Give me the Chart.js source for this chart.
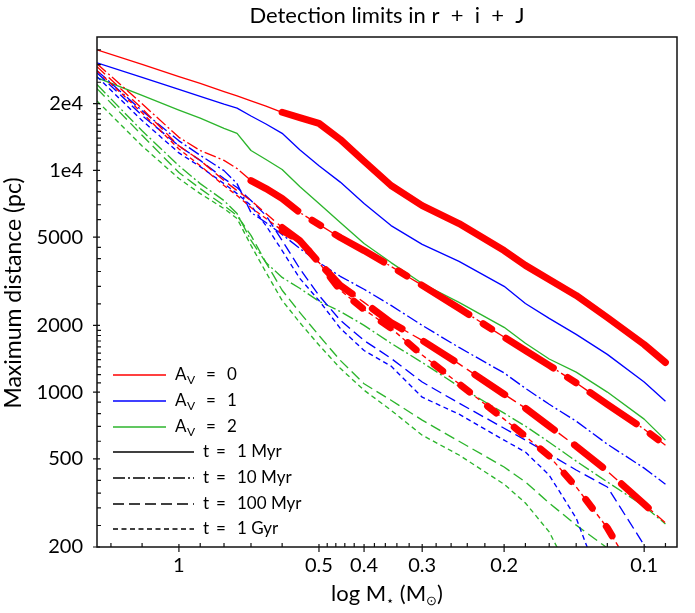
<!DOCTYPE html>
<html>
<head>
<meta charset="utf-8">
<script src="https://cdn.jsdelivr.net/npm/chart.js@4.4.1/dist/chart.umd.min.js"></script>
<style>
  html, body { margin: 0; padding: 0; background: #fff; }
</style>
</head>
<body>
<canvas id="limitsChart" width="695" height="613"></canvas>
<script>
// stellar masses (Msun) on which every curve is sampled
const masses = [1.5, 1.2, 1.0, 0.9, 0.8, 0.75, 0.7, 0.65, 0.6, 0.55, 0.5, 0.45, 0.4, 0.35, 0.3, 0.25, 0.2, 0.18, 0.16, 0.14, 0.12, 0.1, 0.09];

// maximum distance (pc), A_V = 0
const av0_1myr   = [35000, 30100, 26500, 24700, 22700, 21700, 20600, 19500, 18300, 17300, 16300, 13800, 11000, 8550, 6940, 5760, 4350, 3730, 3220, 2730, 2170, 1640, 1360];
const av0_10myr  = [30300, 20000, 14100, 12300, 11100, 10200, 9000, 8280, 7470, 6460, 5700, 4980, 4350, 3690, 3030, 2390, 1770, 1540, 1320, 1100, 881, 680, 576];
const av0_100myr = [29400, 19000, 12900, 11100, 9000, 8110, 7310, 6390, 5530, 4830, 3840, 3030, 2540, 2060, 1710, 1340, 978, 846, 702, 570, 440, 312, 257];
const av0_1gyr   = [28200, 18200, 12500, 10500, 8550, 7700, 6800, 6070, 5360, 4830, 3840, 2880, 2360, 1940, 1470, 1090, 755, 632, 514, 373, 244, 128, null];

// A_V = 1
const av1_1myr   = [30600, 26300, 23200, 21600, 19900, 19100, 17600, 16200, 14700, 12400, 10500, 8860, 7090, 5640, 4640, 3890, 3000, 2510, 2150, 1820, 1480, 1110, 910];
const av1_10myr  = [28200, 18600, 13600, 11700, 9980, 8720, 6460, 5820, 5140, 4450, 3840, 3330, 2910, 2460, 2000, 1590, 1220, 1040, 881, 739, 582, 454, 384];
const av1_100myr = [27600, 17700, 12900, 11100, 9190, 8370, 7310, 6260, 4830, 3610, 2730, 2110, 1710, 1420, 1110, 891, 687, 607, 525, 445, 373, 204, 142];
const av1_1gyr   = [26500, 16800, 12000, 10400, 8720, 7860, 6940, 5640, 4350, 3260, 2590, 1940, 1540, 1310, 948, 795, 607, 536, 422, 270, 115, null, null];

// A_V = 2
const av2_1myr   = [26200, 21800, 18700, 17200, 15500, 14700, 12300, 11200, 10100, 8460, 7090, 5820, 4680, 3840, 3090, 2540, 1960, 1660, 1410, 1230, 1000, 755, 607];
const av2_10myr  = [24400, 15100, 10500, 8720, 7310, 6390, 4830, 3840, 3290, 2940, 2570, 2310, 2000, 1660, 1360, 1060, 803, 702, 594, 488, 393, 306, 254];
const av2_100myr = [23400, 14400, 9780, 8280, 6940, 6260, 5090, 3840, 2880, 2290, 1800, 1390, 1090, 919, 747, 600, 459, 393, 316, 251, 198, 115, null];
const av2_1gyr   = [20600, 12900, 9190, 7860, 6730, 6070, 4590, 3470, 2590, 2060, 1630, 1280, 1020, 828, 639, 520, 384, 316, 234, 135, null, null, null];

// the A_V = 0 curves are drawn heavy below these masses (1 Myr, 10 Myr, 100 Myr, 1 Gyr)
const heavyBelow = [0.6, 0.7, 0.6, 0.6];

const extinctions = ['0', '1', '2'];
const ages = ['1 Myr', '10 Myr', '100 Myr', '1 Gyr'];

const xTickValues = [1, 0.5, 0.4, 0.3, 0.2, 0.1];
const xTickLabels = ['1', '0.5', '0.4', '0.3', '0.2', '0.1'];
const xMinorTicks = [1.4, 1.2, 0.9, 0.8, 0.7, 0.6, 0.48, 0.46, 0.44, 0.42, 0.38, 0.36, 0.34, 0.32,
                     0.28, 0.26, 0.24, 0.22, 0.18, 0.16, 0.14, 0.12, 0.09];
const yTickValues = [200, 500, 1000, 2000, 5000, 10000, 20000];
const yTickLabels = ['200', '500', '1000', '2000', '5000', '1e4', '2e4'];
const yMinorTicks = [250, 300, 350, 400, 450, 600, 700, 800, 900,
                     1100, 1200, 1300, 1400, 1500, 1600, 1700, 1800, 1900,
                     2500, 3000, 3500, 4000, 4500, 6000, 7000, 8000, 9000,
                     11000, 12000, 13000, 14000, 15000, 16000, 17000, 18000, 19000,
                     25000, 30000, 35000];

const curves = [
  [av0_1myr, av0_10myr, av0_100myr, av0_1gyr],
  [av1_1myr, av1_10myr, av1_100myr, av1_1gyr],
  [av2_1myr, av2_10myr, av2_100myr, av2_1gyr]
];

const colours = ['#ff0000', '#0000ff', '#2cb52c'];
const thinDash = [[], [12, 3, 2, 3], [11, 5], [5, 3.5]];
const heavyDash = [[], [56, 17, 10, 17], [36, 25], [11, 23]];
const FONT = 'Lato, "Open Sans", sans-serif';

const datasets = [];
curves.forEach(function (byAge, a) {
  byAge.forEach(function (values, t) {
    datasets.push({
      label: 'A_V=' + extinctions[a] + ' ' + ages[t],
      data: masses.map(function (m, i) { return { x: m, y: values[i] }; }),
      borderColor: colours[a],
      borderWidth: 1.35,
      borderDash: thinDash[t],
      borderCapStyle: 'butt',
      order: 2
    });
  });
});

// heavy overlay on the A_V = 0 curves
curves[0].forEach(function (values, t) {
  datasets.push({
    label: 'A_V=0 ' + ages[t] + ' heavy',
    data: masses.map(function (m, i) {
      return { x: m, y: m <= heavyBelow[t] + 1e-9 ? values[i] : null };
    }),
    borderColor: colours[0],
    borderWidth: 7,
    borderDash: heavyDash[t],
    borderCapStyle: 'round',
    order: 1
  });
});

function drawSub(ctx, parts, x, y) {
  // parts: [text, size, dy]
  let cx = x;
  parts.forEach(function (p) {
    ctx.font = p[1] + 'px ' + FONT;
    ctx.fillText(p[0], cx, y + p[2]);
    cx += ctx.measureText(p[0]).width;
  });
  return cx - x;
}

function widthOf(ctx, parts) {
  let w = 0;
  parts.forEach(function (p) {
    ctx.font = p[1] + 'px ' + FONT;
    w += ctx.measureText(p[0]).width;
  });
  return w;
}

const decorPlugin = {
  id: 'decor',
  afterDraw: function (chart) {
    const ctx = chart.ctx;
    const area = chart.chartArea;
    const xs = chart.scales.x;
    const ys = chart.scales.y;
    ctx.save();

    // frame
    ctx.strokeStyle = '#111';
    ctx.lineWidth = 1.5;
    ctx.setLineDash([]);
    ctx.strokeRect(area.left, area.top, area.right - area.left, area.bottom - area.top);

    // tick marks
    ctx.lineWidth = 1.2;
    ctx.beginPath();
    xTickValues.forEach(function (v) {
      const px = xs.getPixelForValue(v);
      ctx.moveTo(px, area.bottom - 3); ctx.lineTo(px, area.bottom + 5);
    });
    xMinorTicks.forEach(function (v) {
      const px = xs.getPixelForValue(v);
      ctx.moveTo(px, area.bottom); ctx.lineTo(px, area.bottom - 4);
    });
    yTickValues.forEach(function (v) {
      const py = ys.getPixelForValue(v);
      ctx.moveTo(area.left - 4, py); ctx.lineTo(area.left + 3, py);
    });
    yMinorTicks.forEach(function (v) {
      const py = ys.getPixelForValue(v);
      ctx.moveTo(area.left, py); ctx.lineTo(area.left + 4, py);
    });
    ctx.stroke();

    ctx.fillStyle = '#000';
    ctx.textBaseline = 'alphabetic';

    // title
    ctx.textAlign = 'center';
    ctx.font = '22px ' + FONT;
    const cx = (area.left + area.right) / 2;
    ctx.fillText('Detection limits in r  +  i  +  J', cx, 23);

    // y title
    ctx.save();
    ctx.translate(21, 293);
    ctx.rotate(-Math.PI / 2);
    ctx.font = '23px ' + FONT;
    ctx.fillText('Maximum distance (pc)', 0, 0);
    ctx.restore();

    // x title with subscripts
    ctx.textAlign = 'left';
    const xt = [['log M', 22, 0], ['\u22C6', 13, 4], [' (M', 22, 0], ['\u2299', 13, 4], [')', 22, 0]];
    const w = widthOf(ctx, xt);
    drawSub(ctx, xt, cx - w / 2, 601);

    // legend
    const rowY = [375, 401, 427, 452, 478, 504, 529];
    ctx.lineWidth = 1.4;
    for (let a = 0; a < 3; a++) {
      const y = rowY[a];
      ctx.strokeStyle = colours[a];
      ctx.setLineDash([]);
      ctx.beginPath(); ctx.moveTo(113, y); ctx.lineTo(166, y); ctx.stroke();
      ctx.font = '17px ' + FONT;
      ctx.fillText('A', 175, y + 5);
      ctx.font = '12px ' + FONT;
      ctx.fillText('V', 187, y + 9);
      ctx.font = '17px ' + FONT;
      ctx.fillText('=', 206, y + 5);
      ctx.fillText(extinctions[a], 227, y + 5);
    }
    for (let t = 0; t < 4; t++) {
      const y = rowY[3 + t];
      ctx.strokeStyle = '#000';
      ctx.setLineDash(thinDash[t]);
      ctx.beginPath(); ctx.moveTo(113, y); ctx.lineTo(194, y); ctx.stroke();
      ctx.setLineDash([]);
      ctx.font = '17px ' + FONT;
      ctx.fillText('t', 203, y + 5);
      ctx.fillText('=', 216, y + 5);
      ctx.fillText(ages[t], 237, y + 5);
    }
    ctx.restore();
  }
};

new Chart(document.getElementById('limitsChart').getContext('2d'), {
  type: 'line',
  data: { datasets: datasets },
  plugins: [decorPlugin],
  options: {
    responsive: false,
    animation: false,
    layout: { padding: { top: 37, right: 18, left: 0, bottom: 0 } },
    elements: {
      point: { radius: 0, hoverRadius: 0 },
      line: { tension: 0, borderJoinStyle: 'round', fill: false }
    },
    datasets: { line: { clip: 0, spanGaps: false } },
    plugins: {
      legend: { display: false },
      title: { display: false },
      tooltip: { enabled: false }
    },
    scales: {
      x: {
        type: 'logarithmic',
        reverse: true,
        min: 0.085,
        max: 1.5,
        afterBuildTicks: function (scale) {
          scale.ticks = xTickValues.map(function (v) { return { value: v }; });
        },
        afterFit: function (scale) { scale.height = 66; },
        grid: { display: false, drawTicks: false },
        border: { display: false },
        ticks: {
          autoSkip: false,
          maxRotation: 0,
          padding: 7,
          color: '#000',
          font: { family: FONT, size: 20 },
          callback: function (value) {
            const i = xTickValues.findIndex(function (v) { return Math.abs(v - value) < 1e-9; });
            return i >= 0 ? xTickLabels[i] : '';
          }
        }
      },
      y: {
        type: 'logarithmic',
        min: 200,
        max: 40000,
        afterBuildTicks: function (scale) {
          scale.ticks = yTickValues.map(function (v) { return { value: v }; });
        },
        afterFit: function (scale) { scale.width = 97; },
        grid: { display: false, drawTicks: false },
        border: { display: false },
        ticks: {
          autoSkip: false,
          padding: 14,
          color: '#000',
          font: { family: FONT, size: 20 },
          callback: function (value) {
            const i = yTickValues.findIndex(function (v) { return Math.abs(v - value) < 1e-6; });
            return i >= 0 ? yTickLabels[i] : '';
          }
        }
      }
    }
  }
});
</script>
</body>
</html>
